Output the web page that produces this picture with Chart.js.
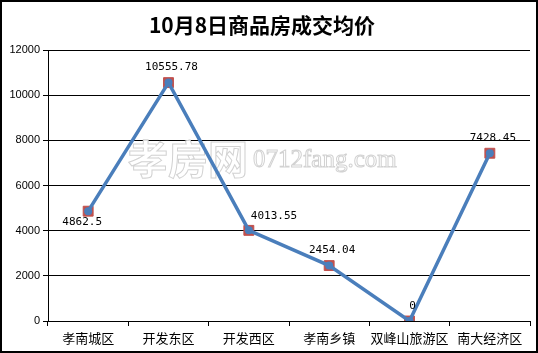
<!DOCTYPE html>
<html>
<head>
<meta charset="utf-8">
<script src="https://cdn.jsdelivr.net/npm/chart.js@4.4.0/dist/chart.umd.min.js"></script>
<style>
  body { margin: 0; background: #fff; }
  #wrap { width: 538px; height: 353px; }
</style>
</head>
<body>
<div id="wrap"><canvas id="myChart"></canvas></div>
<script>
// 数据
var districts = ['孝南城区', '开发东区', '开发西区', '孝南乡镇', '双峰山旅游区', '南大经济区'];
var avgPrice = [4862.5, 10555.78, 4013.55, 2454.04, 0, 7428.45];
var priceLabels = ['4862.5', '10555.78', '4013.55', '2454.04', '0', '7428.45'];
var labelPlace = ['below', 'above', 'right', 'above', 'above', 'above'];
var titleText = '10月8日商品房成交均价';

// 边框、标题、水印、数值标签
var decorPlugin = {
  id: 'decor',
  beforeDraw: function (chart) {
    var c = chart.ctx;
    c.save();
    c.fillStyle = '#fff';
    c.fillRect(0, 0, chart.width, chart.height);
    c.fillStyle = '#000';
    c.font = 'bold 21px "Noto Sans CJK SC"';
    c.textAlign = 'center';
    c.textBaseline = 'middle';
    c.fillText(titleText, 262, 25);
    c.restore();
  },
  beforeDatasetsDraw: function (chart) {
    var c = chart.ctx;
    c.save();
    c.lineWidth = 1;
    c.strokeStyle = '#d2d2d2';
    c.fillStyle = 'rgba(255,255,255,0.9)';
    c.textBaseline = 'alphabetic';
    c.font = 'bold 40px "Noto Sans CJK SC"';
    c.fillText('孝房网', 128, 174);
    c.strokeText('孝房网', 128, 174);
    c.font = '25px "Liberation Serif"';
    c.fillText('0712fang.com', 253, 167);
    c.strokeText('0712fang.com', 253, 167);
    c.restore();
  },
  afterDatasetsDraw: function (chart) {
    var c = chart.ctx;
    var meta = chart.getDatasetMeta(0);
    c.save();
    c.fillStyle = '#000';
    c.font = '11px "DejaVu Sans Mono"';
    c.textBaseline = 'middle';
    meta.data.forEach(function (pt, i) {
      var p = labelPlace[i];
      if (p === 'below') {
        c.textAlign = 'center';
        c.fillText(priceLabels[i], pt.x - 6, pt.y + 11);
      } else if (p === 'right') {
        c.textAlign = 'left';
        c.fillText(priceLabels[i], pt.x + 2, pt.y - 14);
      } else {
        c.textAlign = 'center';
        c.fillText(priceLabels[i], pt.x + 3, pt.y - 15);
      }
    });
    c.restore();
  },
  afterDraw: function (chart) {
    var c = chart.ctx;
    c.save();
    c.strokeStyle = '#000';
    c.lineWidth = 2;
    c.strokeRect(1, 1, chart.width - 2, chart.height - 2);
    c.restore();
  }
};

var ctx = document.getElementById('myChart').getContext('2d');
var myChart = new Chart(ctx, {
  type: 'line',
  data: {
    labels: districts,
    datasets: [
      {
        label: '成交均价',
        data: avgPrice,
        borderColor: '#4a7ebb',
        borderWidth: 3.5,
        tension: 0,
        pointRadius: 4,
        pointBackgroundColor: '#4a7ebb',
        pointBorderWidth: 0
      },
      {
        label: 'marker',
        data: avgPrice,
        showLine: false,
        pointStyle: 'rect',
        pointRadius: 7,
        pointBackgroundColor: '#c0504d',
        pointBorderColor: '#c0504d',
        pointBorderWidth: 1
      }
    ]
  },
  options: {
    responsive: true,
    maintainAspectRatio: false,
    animation: false,
    layout: { padding: { top: 50, left: 0, right: 4, bottom: 0 } },
    scales: {
      x: {
        offset: true,
        grid: {
          offset: true,
          drawOnChartArea: false,
          color: '#000',
          tickLength: 5
        },
        border: { color: '#000', width: 1 },
        ticks: {
          color: '#000',
          padding: 4,
          maxRotation: 0,
          autoSkip: false,
          font: { family: 'Noto Sans CJK SC', size: 13 }
        },
        afterFit: function (scale) { scale.height = 32; }
      },
      y: {
        min: 0,
        max: 12000,
        grid: { color: '#000', tickLength: 5 },
        border: { color: '#000', width: 1 },
        ticks: {
          stepSize: 2000,
          color: '#000',
          padding: 3,
          font: { family: 'Liberation Sans', size: 11 },
          callback: function (v) { return String(v); }
        },
        afterFit: function (scale) { scale.width = 48; }
      }
    },
    plugins: {
      legend: { display: false },
      title: { display: false },
      tooltip: { enabled: false }
    }
  },
  plugins: [decorPlugin]
});
</script>
</body>
</html>
